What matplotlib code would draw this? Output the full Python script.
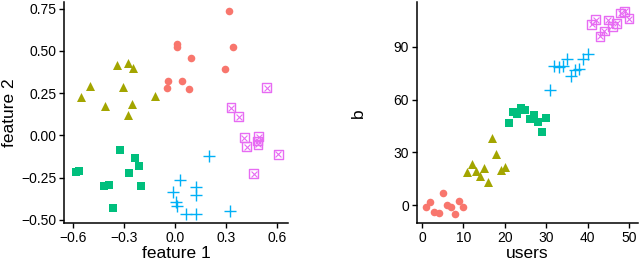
import matplotlib
matplotlib.use('Agg')
import matplotlib.pyplot as plt

plt.rcParams['font.family'] = ['Liberation Sans', 'DejaVu Sans']

# ggplot hue palette, one colour per group
colors = ['#F8766D', '#A3A500', '#00BF7D', '#00B0F6', '#E76BF3']

# left panel: feature 1 / feature 2 per group
f1_red = [0.32, 0.014, 0.012, 0.343, 0.096, 0.294, -0.041, 0.041, -0.049, 0.084]
f2_red = [0.734, 0.538, 0.524, 0.522, 0.457, 0.392, 0.323, 0.323, 0.282, 0.274]
f1_olive = [-0.341, -0.278, -0.247, -0.5, -0.304, -0.555, -0.118, -0.41, -0.255, -0.278]
f2_olive = [0.414, 0.426, 0.40, 0.292, 0.288, 0.227, 0.233, 0.175, 0.187, 0.118]
f1_green = [-0.325, -0.235, -0.21, -0.268, -0.584, -0.563, -0.416, -0.386, -0.2, -0.365]
f2_green = [-0.085, -0.136, -0.184, -0.225, -0.217, -0.209, -0.302, -0.292, -0.302, -0.432]
f1_blue = [0.202, 0.031, 0.124, -0.01, 0.125, 0.006, 0.014, 0.065, 0.124, 0.325]
f2_blue = [-0.124, -0.266, -0.308, -0.337, -0.351, -0.395, -0.416, -0.464, -0.464, -0.45]
f1_pink = [0.539, 0.329, 0.375, 0.408, 0.492, 0.486, 0.423, 0.488, 0.608, 0.463]
f2_pink = [0.282, 0.163, 0.11, -0.014, -0.008, -0.034, -0.067, -0.053, -0.112, -0.227]

# right panel: users / b per group
users_red = [1, 2, 3, 4, 5, 6, 7, 8, 9, 10]
b_red = [-1.3, 1.9, -4.2, -4.7, 7.0, 0.0, -1.0, -4.9, 2.1, -1.3]
users_olive = [11, 12, 13, 14, 15, 16, 17, 18, 19, 20]
b_olive = [18.9, 23.3, 19.5, 16.5, 21.2, 12.9, 38.4, 29.0, 19.9, 21.8]
users_green = [21, 22, 23, 24, 25, 26, 27, 28, 29, 30]
b_green = [46.8, 53.0, 52.0, 55.1, 54.0, 49.0, 51.0, 47.4, 41.7, 49.7]
users_blue = [31, 32, 33, 34, 35, 36, 37, 38, 39, 40]
b_blue = [65.7, 79.0, 78.6, 79.0, 83.3, 73.3, 77.0, 77.5, 83.0, 85.8]
users_pink = [41, 42, 43, 44, 45, 46, 47, 48, 49, 50]
b_pink = [102.8, 105.5, 96.0, 99.0, 105.3, 101.7, 103.3, 109.3, 110.2, 106.0]


def draw_groups(ax, groups):
    (xr, yr), (xo, yo), (xg, yg), (xb, yb), (xp, yp) = groups
    ax.scatter(xr, yr, s=30, marker='o', color=colors[0], linewidths=0)
    ax.scatter(xo, yo, s=42, marker='^', color=colors[1], linewidths=0)
    ax.scatter(xg, yg, s=34, marker='s', color=colors[2], linewidths=0)
    ax.scatter(xb, yb, s=70, marker='+', color=colors[3], linewidths=1.0)
    # square with a cross inside (ggplot shape 7)
    ax.scatter(xp, yp, s=40, marker='s', facecolors='none', edgecolors=colors[4], linewidths=1.0)
    ax.scatter(xp, yp, s=18, marker='x', color=colors[4], linewidths=0.8)


def style(ax):
    for side in ['top', 'right']:
        ax.spines[side].set_visible(False)
    for side in ['left', 'bottom']:
        ax.spines[side].set_linewidth(1.1)
    ax.tick_params(width=1.0, length=3.5, labelsize=10, colors='black', pad=2)


fig = plt.figure(figsize=(6.4, 2.63), dpi=100)

ax1 = fig.add_axes([0.100, 0.152, 0.350, 0.840])
draw_groups(ax1, [(f1_red, f2_red), (f1_olive, f2_olive), (f1_green, f2_green),
                  (f1_blue, f2_blue), (f1_pink, f2_pink)])
ax1.set_xlim(-0.653, 0.665)
ax1.set_ylim(-0.519, 0.789)
ax1.set_xticks([-0.6, -0.3, 0.0, 0.3, 0.6])
ax1.set_xticklabels(['\u22120.6', '\u22120.3', '0.0', '0.3', '0.6'])
ax1.set_yticks([-0.5, -0.25, 0.0, 0.25, 0.5, 0.75])
ax1.set_yticklabels(['\u22120.50', '\u22120.25', '0.00', '0.25', '0.50', '0.75'])
ax1.set_xlabel('feature 1', fontsize=12.5, labelpad=1)
ax1.set_ylabel('feature 2', fontsize=12.5, labelpad=3)
style(ax1)

ax2 = fig.add_axes([0.651, 0.151, 0.346, 0.840])
draw_groups(ax2, [(users_red, b_red), (users_olive, b_olive), (users_green, b_green),
                  (users_blue, b_blue), (users_pink, b_pink)])
ax2.set_xlim(-1.28, 52.2)
ax2.set_ylim(-10.4, 115.3)
ax2.set_xticks([0, 10, 20, 30, 40, 50])
ax2.set_yticks([0, 30, 60, 90])
ax2.set_xlabel('users', fontsize=12.5, labelpad=1)
ax2.set_ylabel('b', fontsize=12.5, labelpad=20)
style(ax2)

fig.savefig('out.png', dpi=100)
